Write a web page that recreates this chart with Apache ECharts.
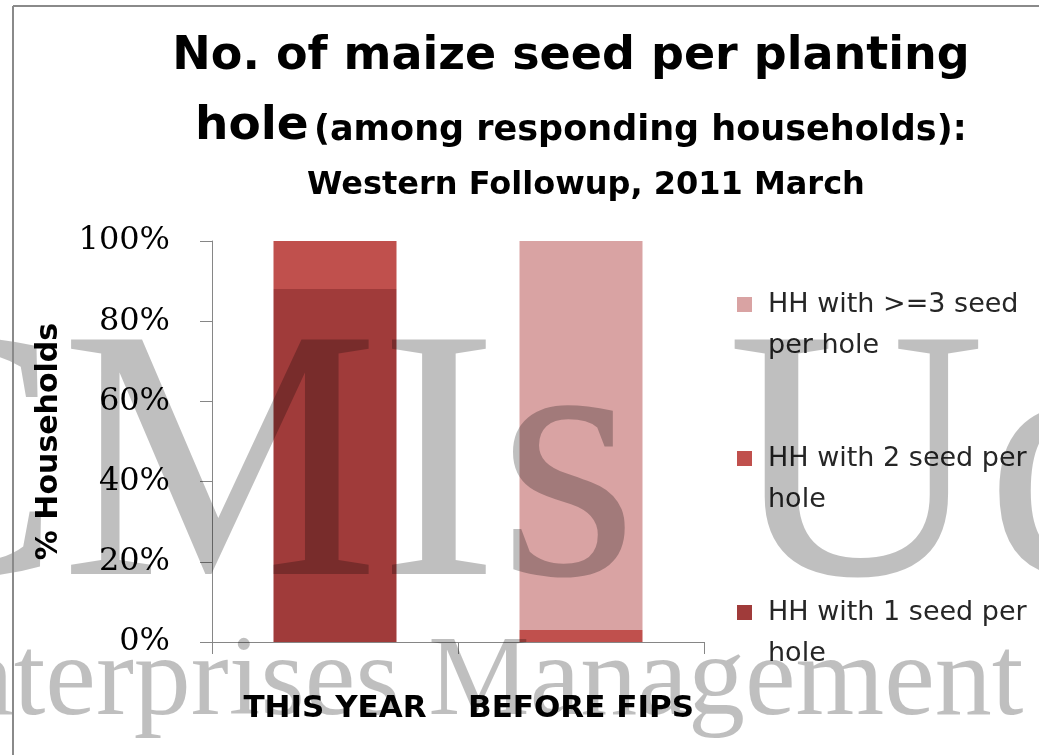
<!DOCTYPE html>
<html>
<head>
<meta charset="utf-8">
<title>No. of maize seed per planting hole</title>
<script src="https://cdn.jsdelivr.net/npm/echarts@6/dist/echarts.min.js"></script>
<style>
  html, body { margin: 0; padding: 0; background: #fff; }
  #chart { width: 1039px; height: 755px; }
</style>
</head>
<body>
<div id="chart"></div>
<script>
// values (% of responding households)
var categories = ['THIS YEAR', 'BEFORE FIPS']
var oneSeed = [88, 0]
var twoSeed = [12, 3]
var threeSeed = [0, 97]
var seriesNames = ['HH with 1 seed per hole', 'HH with 2 seed per hole', 'HH with >=3 seed per hole']
var legendLabels = ['HH with 1 seed per\nhole', 'HH with 2 seed per\nhole', 'HH with >=3 seed\nper hole']
var yMax = 100
var yStep = 20

var sans = '"DejaVu Sans", sans-serif'
var serif = '"DejaVu Serif", serif'
var barColors = ['#a03b3a', '#c0504d', '#d9a3a3']
var axisGray = '#868686'
var mark = 'rgba(0,0,0,0.25)' // watermark on top of the chart

var chart = echarts.init(document.getElementById('chart'))

function txt (text, x, y, font, align, fill, z) {
  return {
    type: 'text',
    x: x,
    y: y,
    z: z || 10,
    silent: true,
    style: {
      text: text,
      font: font,
      fill: fill || '#000',
      align: align,
      textAlign: align,
      verticalAlign: 'middle',
      textVerticalAlign: 'middle'
    }
  }
}

var option = {
  backgroundColor: '#fff',
  animation: false,
  grid: {
    left: 212,
    right: 335,
    top: 241,
    bottom: 113,
    containLabel: false,
    outerBoundsMode: 'none'
  },
  legend: {
    orient: 'vertical',
    left: 737,
    top: 243,
    padding: 0,
    itemGap: 31,
    itemWidth: 15,
    itemHeight: 15,
    icon: 'rect',
    selectedMode: false,
    data: [seriesNames[2], seriesNames[1], seriesNames[0]],
    // empty first line so the marker sits beside the first text line
    formatter: function (name) {
      return '\n' + legendLabels[seriesNames.indexOf(name)]
    },
    textStyle: {
      fontFamily: sans,
      fontSize: 27,
      lineHeight: 41,
      color: '#262626',
      padding: [0, 0, 0, 11]
    }
  },
  xAxis: {
    type: 'category',
    data: categories,
    axisLine: { lineStyle: { color: axisGray, width: 1 } },
    axisTick: { show: true, length: 12, lineStyle: { color: axisGray } },
    axisLabel: {
      interval: 0,
      margin: 51,
      fontFamily: sans,
      fontWeight: 'bold',
      fontSize: 31,
      color: '#000'
    }
  },
  yAxis: {
    type: 'value',
    min: 0,
    max: yMax,
    interval: yStep,
    name: '% Households',
    nameLocation: 'middle',
    nameGap: 148,
    nameTextStyle: {
      fontFamily: sans,
      fontWeight: 'bold',
      fontSize: 30,
      color: '#000'
    },
    axisLine: { show: true, lineStyle: { color: axisGray, width: 1 } },
    axisTick: { show: true, length: 12, lineStyle: { color: axisGray } },
    splitLine: { show: false },
    axisLabel: {
      formatter: '{value}%',
      margin: 42,
      fontFamily: serif,
      fontSize: 32,
      color: '#000'
    }
  },
  series: [
    { name: seriesNames[0], type: 'bar', stack: 'hh', barWidth: '50%', data: oneSeed, itemStyle: { color: barColors[0] } },
    { name: seriesNames[1], type: 'bar', stack: 'hh', barWidth: '50%', data: twoSeed, itemStyle: { color: barColors[1] } },
    { name: seriesNames[2], type: 'bar', stack: 'hh', barWidth: '50%', data: threeSeed, itemStyle: { color: barColors[2] } }
  ],
  graphic: [
    // title, three lines
    txt('No. of maize seed per planting', 571, 57, 'bold 46px "DejaVu Sans"', 'center'),
    txt('hole', 195, 127, 'bold 47px "DejaVu Sans"', 'left'),
    txt('(among responding households):', 314, 131, 'bold 35px "DejaVu Sans"', 'left'),
    txt('Western Followup, 2011 March', 586, 186, 'bold 32px "DejaVu Sans"', 'center'),
    // frame of the picture
    { type: 'line', silent: true, z: 120, shape: { x1: 13, y1: 6, x2: 1039, y2: 6 }, style: { stroke: '#8a8a8a', lineWidth: 2 } },
    { type: 'line', silent: true, z: 120, shape: { x1: 13, y1: 6, x2: 13, y2: 755 }, style: { stroke: '#8a8a8a', lineWidth: 2 } },
    // watermark
    txt('CMIs Uc', -178, 480, '358px "Liberation Serif"', 'left', mark, 100),
    txt('Enterprises Management', -113, 684, '114px "Liberation Serif"', 'left', mark, 100)
  ]
}

chart.setOption(option)
</script>
</body>
</html>
